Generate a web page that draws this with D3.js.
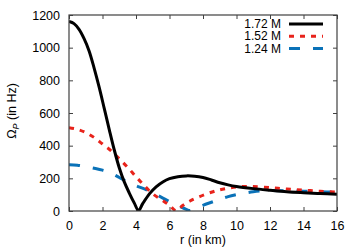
<!DOCTYPE html>
<html>
<head>
<meta charset="utf-8">
<script src="https://cdn.jsdelivr.net/npm/d3@7"></script>
<style>
  body { margin: 0; background: #fff; }
  text { font-family: "Liberation Sans", Arial, sans-serif; }
</style>
</head>
<body>
<svg id="chart" width="360" height="252"></svg>
<script>
// values
const r172 = [0, 0.3, 0.6, 0.9, 1.2, 1.5, 1.8, 2.1, 2.4, 2.7, 3.0, 3.3, 3.6, 3.9, 4.15, 4.4, 4.8, 5.2, 5.6, 6.0, 6.5, 7.0, 7.5, 8.0, 8.5, 9.0, 9.5, 10, 11, 12, 13, 14, 15, 16];
const v172 = [1160, 1147, 1112, 1055, 980, 875, 758, 630, 500, 375, 265, 178, 110, 48, 3, 45, 105, 148, 178, 198, 210, 215, 213, 205, 190, 173, 160, 150, 137, 127, 118, 112, 107, 102];

const r152 = [0, 0.5, 1.0, 1.5, 2.0, 2.5, 3.0, 3.5, 4.0, 4.5, 5.0, 5.5, 6.0, 6.4, 6.8, 7.2, 7.8, 8.5, 9.0, 9.5, 10, 10.5, 11, 12, 13, 14, 15, 16];
const v152 = [510, 500, 480, 450, 410, 370, 320, 268, 210, 155, 105, 70, 35, 2, 35, 60, 88, 115, 130, 140, 147, 150, 150, 143, 135, 128, 121, 115];

const r124 = [0, 0.5, 1.0, 1.5, 2.0, 2.5, 3.0, 3.5, 4.0, 4.5, 5.0, 5.5, 6.0, 6.5, 7.0, 7.2, 7.5, 8.0, 8.6, 9.0, 9.5, 10, 10.5, 11, 11.5, 12, 13, 14, 15, 16];
const v124 = [283, 280, 272, 262, 250, 232, 205, 177, 155, 135, 110, 85, 58, 33, 10, 3, 15, 35, 57, 72, 88, 100, 110, 118, 123, 125, 124, 121, 118, 115];

const xTicks = [0, 2, 4, 6, 8, 10, 12, 14, 16];
const yTicks = [0, 200, 400, 600, 800, 1000, 1200];

const series = [
  { name: "1.72 M", r: r172, v: v172, color: "#000000", dash: null },
  { name: "1.52 M", r: r152, v: v152, color: "#e8231b", dash: "5,6" },
  { name: "1.24 M", r: r124, v: v124, color: "#0a72b8", dash: "11,13" }
];

const pLeft = 69, pRight = 337, pTop = 15, pBottom = 211;
const svg = d3.select("#chart");

const x = d3.scaleLinear().domain([0, 16]).range([pLeft, pRight]);
const y = d3.scaleLinear().domain([0, 1200]).range([pBottom, pTop]);

const frame = "#404040";

// axes with inward ticks, mirrored on top and right
svg.append("g")
  .attr("transform", `translate(0,${pBottom})`)
  .call(d3.axisBottom(x).tickValues(xTicks).tickSizeInner(-4).tickSizeOuter(0).tickPadding(10).tickFormat(d3.format("d")))
  .call(g => g.select(".domain").remove());
svg.append("g")
  .attr("transform", `translate(0,${pTop})`)
  .call(d3.axisTop(x).tickValues(xTicks).tickSizeInner(-4).tickSizeOuter(0).tickFormat(""))
  .call(g => g.select(".domain").remove());
svg.append("g")
  .attr("transform", `translate(${pLeft},0)`)
  .call(d3.axisLeft(y).tickValues(yTicks).tickSizeInner(-4).tickSizeOuter(0).tickPadding(9).tickFormat(d3.format("d")))
  .call(g => g.select(".domain").remove());
svg.append("g")
  .attr("transform", `translate(${pRight},0)`)
  .call(d3.axisRight(y).tickValues(yTicks).tickSizeInner(-4).tickSizeOuter(0).tickFormat(""))
  .call(g => g.select(".domain").remove());

svg.selectAll(".tick line").attr("stroke", frame);
svg.selectAll(".tick text").attr("font-size", 12.5).attr("fill", "#000");

// curves
const line = d3.line()
  .x(d => x(d[0]))
  .y(d => y(d[1]))
  .curve(d3.curveCatmullRom.alpha(0.5));

svg.append("defs").append("clipPath").attr("id", "clip")
  .append("rect").attr("x", pLeft).attr("y", pTop).attr("width", pRight - pLeft).attr("height", pBottom - pTop);

svg.append("g").attr("clip-path", "url(#clip)")
  .selectAll("path")
  .data(series.slice().reverse())
  .join("path")
  .attr("d", s => line(s.r.map((rv, i) => [rv, s.v[i]])))
  .attr("fill", "none")
  .attr("stroke", s => s.color)
  .attr("stroke-width", 3)
  .attr("stroke-dasharray", s => s.dash);

// frame
svg.append("rect")
  .attr("x", pLeft).attr("y", pTop)
  .attr("width", pRight - pLeft).attr("height", pBottom - pTop)
  .attr("fill", "none").attr("stroke", frame).attr("stroke-width", 1.2);

// legend
const legend = svg.append("g");
series.forEach((s, i) => {
  const ly = 24 + i * 12.2;
  legend.append("text")
    .attr("x", 281).attr("y", ly + 4.2)
    .attr("text-anchor", "end").attr("font-size", 12)
    .text(s.name);
  legend.append("line")
    .attr("x1", 289).attr("x2", 323)
    .attr("y1", ly).attr("y2", ly)
    .attr("stroke", s.color).attr("stroke-width", 3)
    .attr("stroke-dasharray", s.dash);
});

// axis titles
svg.append("text")
  .attr("x", (pLeft + pRight) / 2).attr("y", 244)
  .attr("text-anchor", "middle").attr("font-size", 12.5)
  .text("r (in km)");

const yl = svg.append("text")
  .attr("transform", "translate(16,111) rotate(-90)")
  .attr("text-anchor", "middle").attr("font-size", 12.5);
yl.append("tspan").text("Ω");
yl.append("tspan").attr("font-size", 9).attr("font-style", "italic").attr("dy", 3).text("P");
yl.append("tspan").attr("dy", -3).text(" (in Hz)");
</script>
</body>
</html>
